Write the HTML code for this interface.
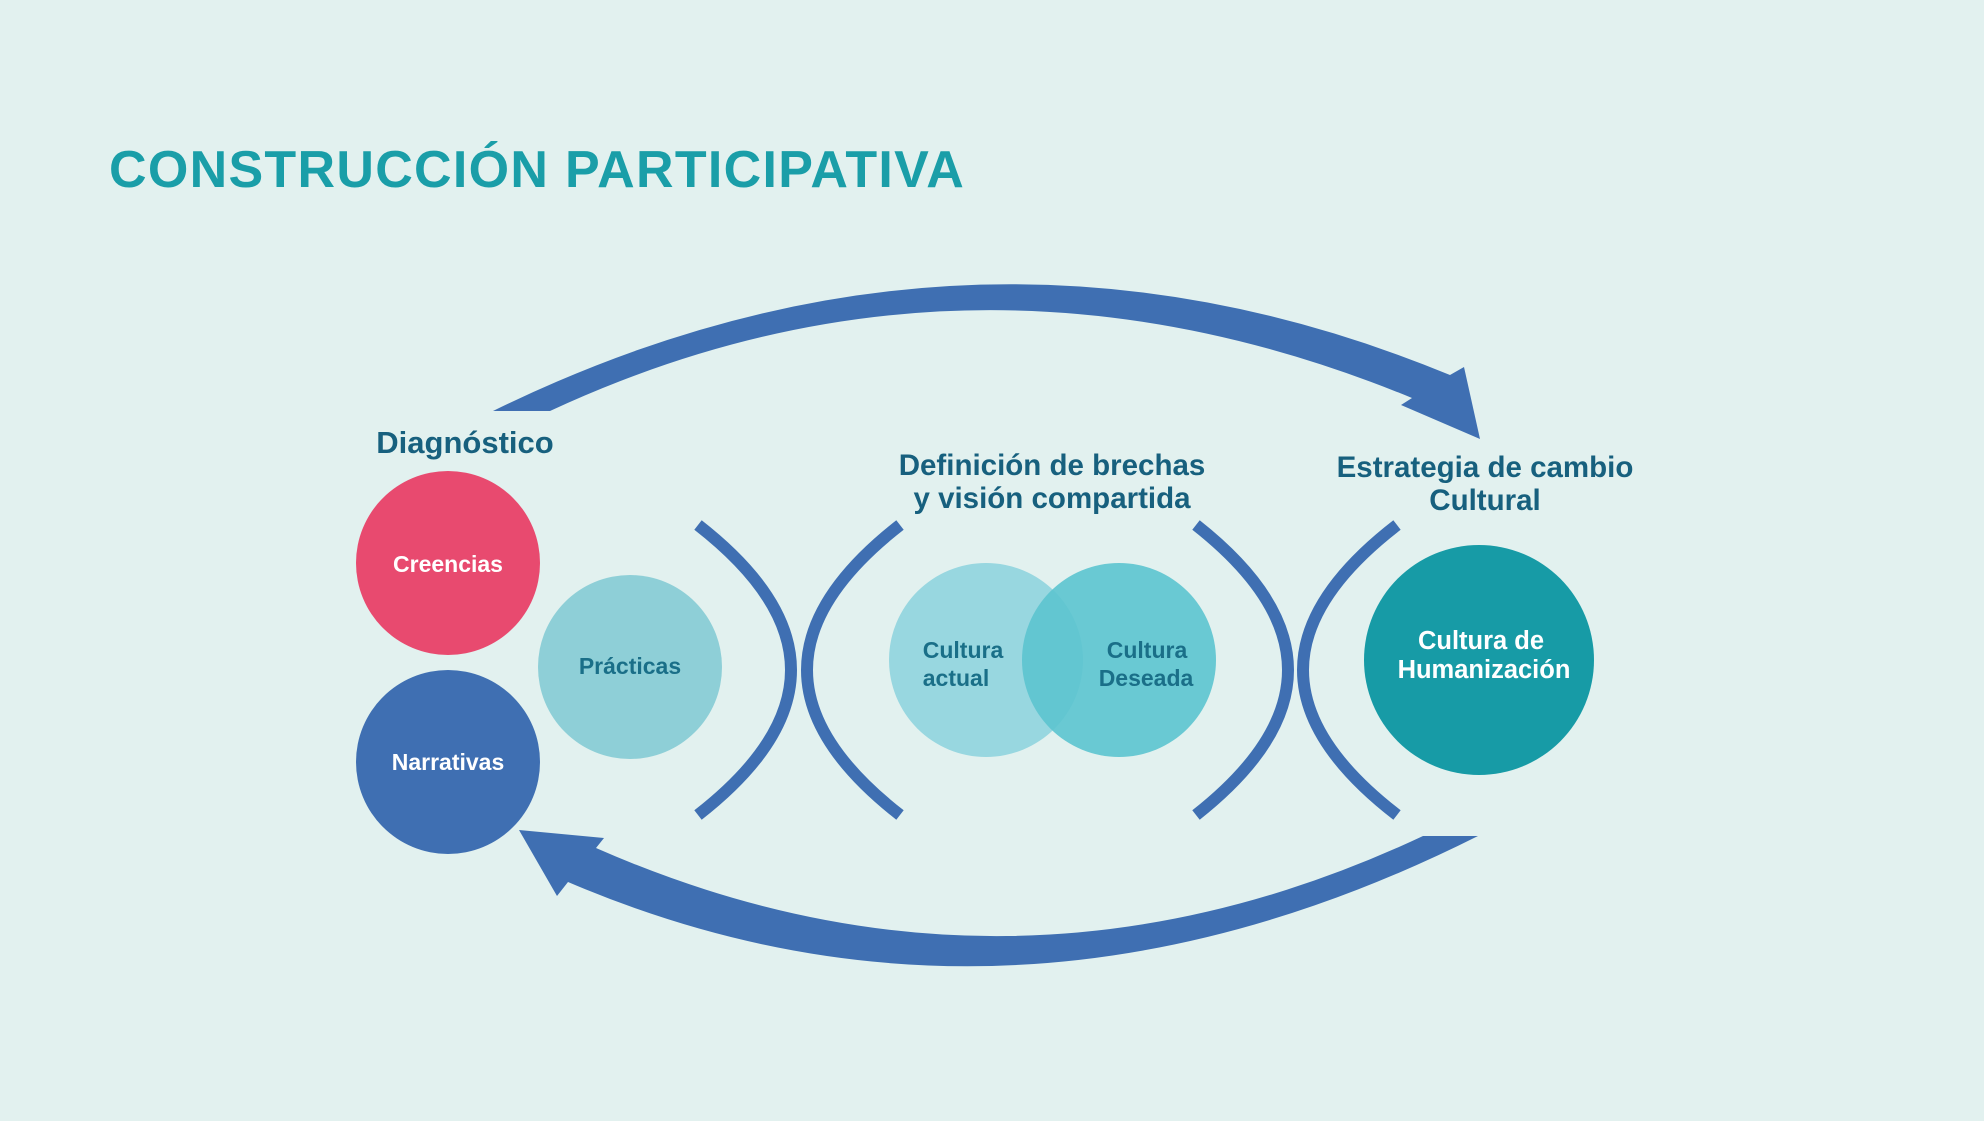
<!DOCTYPE html>
<html><head><meta charset="utf-8"><style>
html,body{margin:0;padding:0;background:#e2f1ef;}
body{width:1984px;height:1121px;overflow:hidden;font-family:"Liberation Sans",sans-serif;}
</style></head><body>
<svg width="1984" height="1121" viewBox="0 0 1984 1121" xmlns="http://www.w3.org/2000/svg" style="position:absolute;left:0;top:0">
<rect width="1984" height="1121" fill="#e2f1ef"/>
<text x="109" y="187" font-family="Liberation Sans, sans-serif" font-weight="bold" font-size="52" letter-spacing="1.3" fill="#1a9ea8">CONSTRUCCIÓN PARTICIPATIVA</text>
<!-- top arrow -->
<path d="M493,411 Q970,177 1450,375 L1464,367 L1480,439 L1401,405 L1412,398 Q970,216 550,411 Z" fill="#3f6fb2"/>
<!-- bottom arrow -->
<path d="M1478,836 Q1010,1071 568,882 L557,896 L519,830 L604,838 L596,848 Q1010,1030 1423,836 Z" fill="#3f6fb2"/>
<!-- brackets -->
<g fill="none" stroke="#3f6fb2" stroke-width="12">
<path d="M698,525 Q884,670 698,815"/>
<path d="M900,525 Q714,670 900,815"/>
<path d="M1196,525 Q1380,670 1196,815"/>
<path d="M1397,525 Q1209,670 1397,815"/>
</g>
<!-- circles -->
<circle cx="448" cy="563" r="92" fill="#e84a6f"/>
<circle cx="448" cy="762" r="92" fill="#3f6fb2"/>
<circle cx="630" cy="667" r="92" fill="#8ecfd7"/>
<circle cx="986" cy="660" r="97" fill="#98d7e0"/>
<circle cx="1119" cy="660" r="97" fill="#5cc4cf" fill-opacity="0.9"/>
<circle cx="1479" cy="660" r="115" fill="#179ba6"/>
<g font-family="Liberation Sans, sans-serif" font-weight="bold" text-anchor="middle">
<text x="448" y="572" font-size="23" fill="#ffffff">Creencias</text>
<text x="448" y="770" font-size="23" fill="#ffffff">Narrativas</text>
<text x="630" y="674" font-size="23" fill="#1a6f88">Prácticas</text>
<text x="963" y="658" font-size="23" fill="#1a6f88">Cultura</text>
<text x="956" y="686" font-size="23" fill="#1a6f88">actual</text>
<text x="1147" y="658" font-size="23" fill="#1a6f88">Cultura</text>
<text x="1146" y="686" font-size="23" fill="#1a6f88">Deseada</text>
<text x="1481" y="649" font-size="25.5" fill="#ffffff">Cultura de</text>
<text x="1484" y="678" font-size="25.5" fill="#ffffff">Humanización</text>
<text x="465" y="453" font-size="31" fill="#17607e">Diagnóstico</text>
<text x="1052" y="475" font-size="29.5" fill="#17607e">Definición de brechas</text>
<text x="1052" y="508" font-size="29.5" fill="#17607e">y visión compartida</text>
<text x="1485" y="477" font-size="29.5" fill="#17607e">Estrategia de cambio</text>
<text x="1485" y="510" font-size="29.5" fill="#17607e">Cultural</text>
</g>
</svg>
</body></html>
